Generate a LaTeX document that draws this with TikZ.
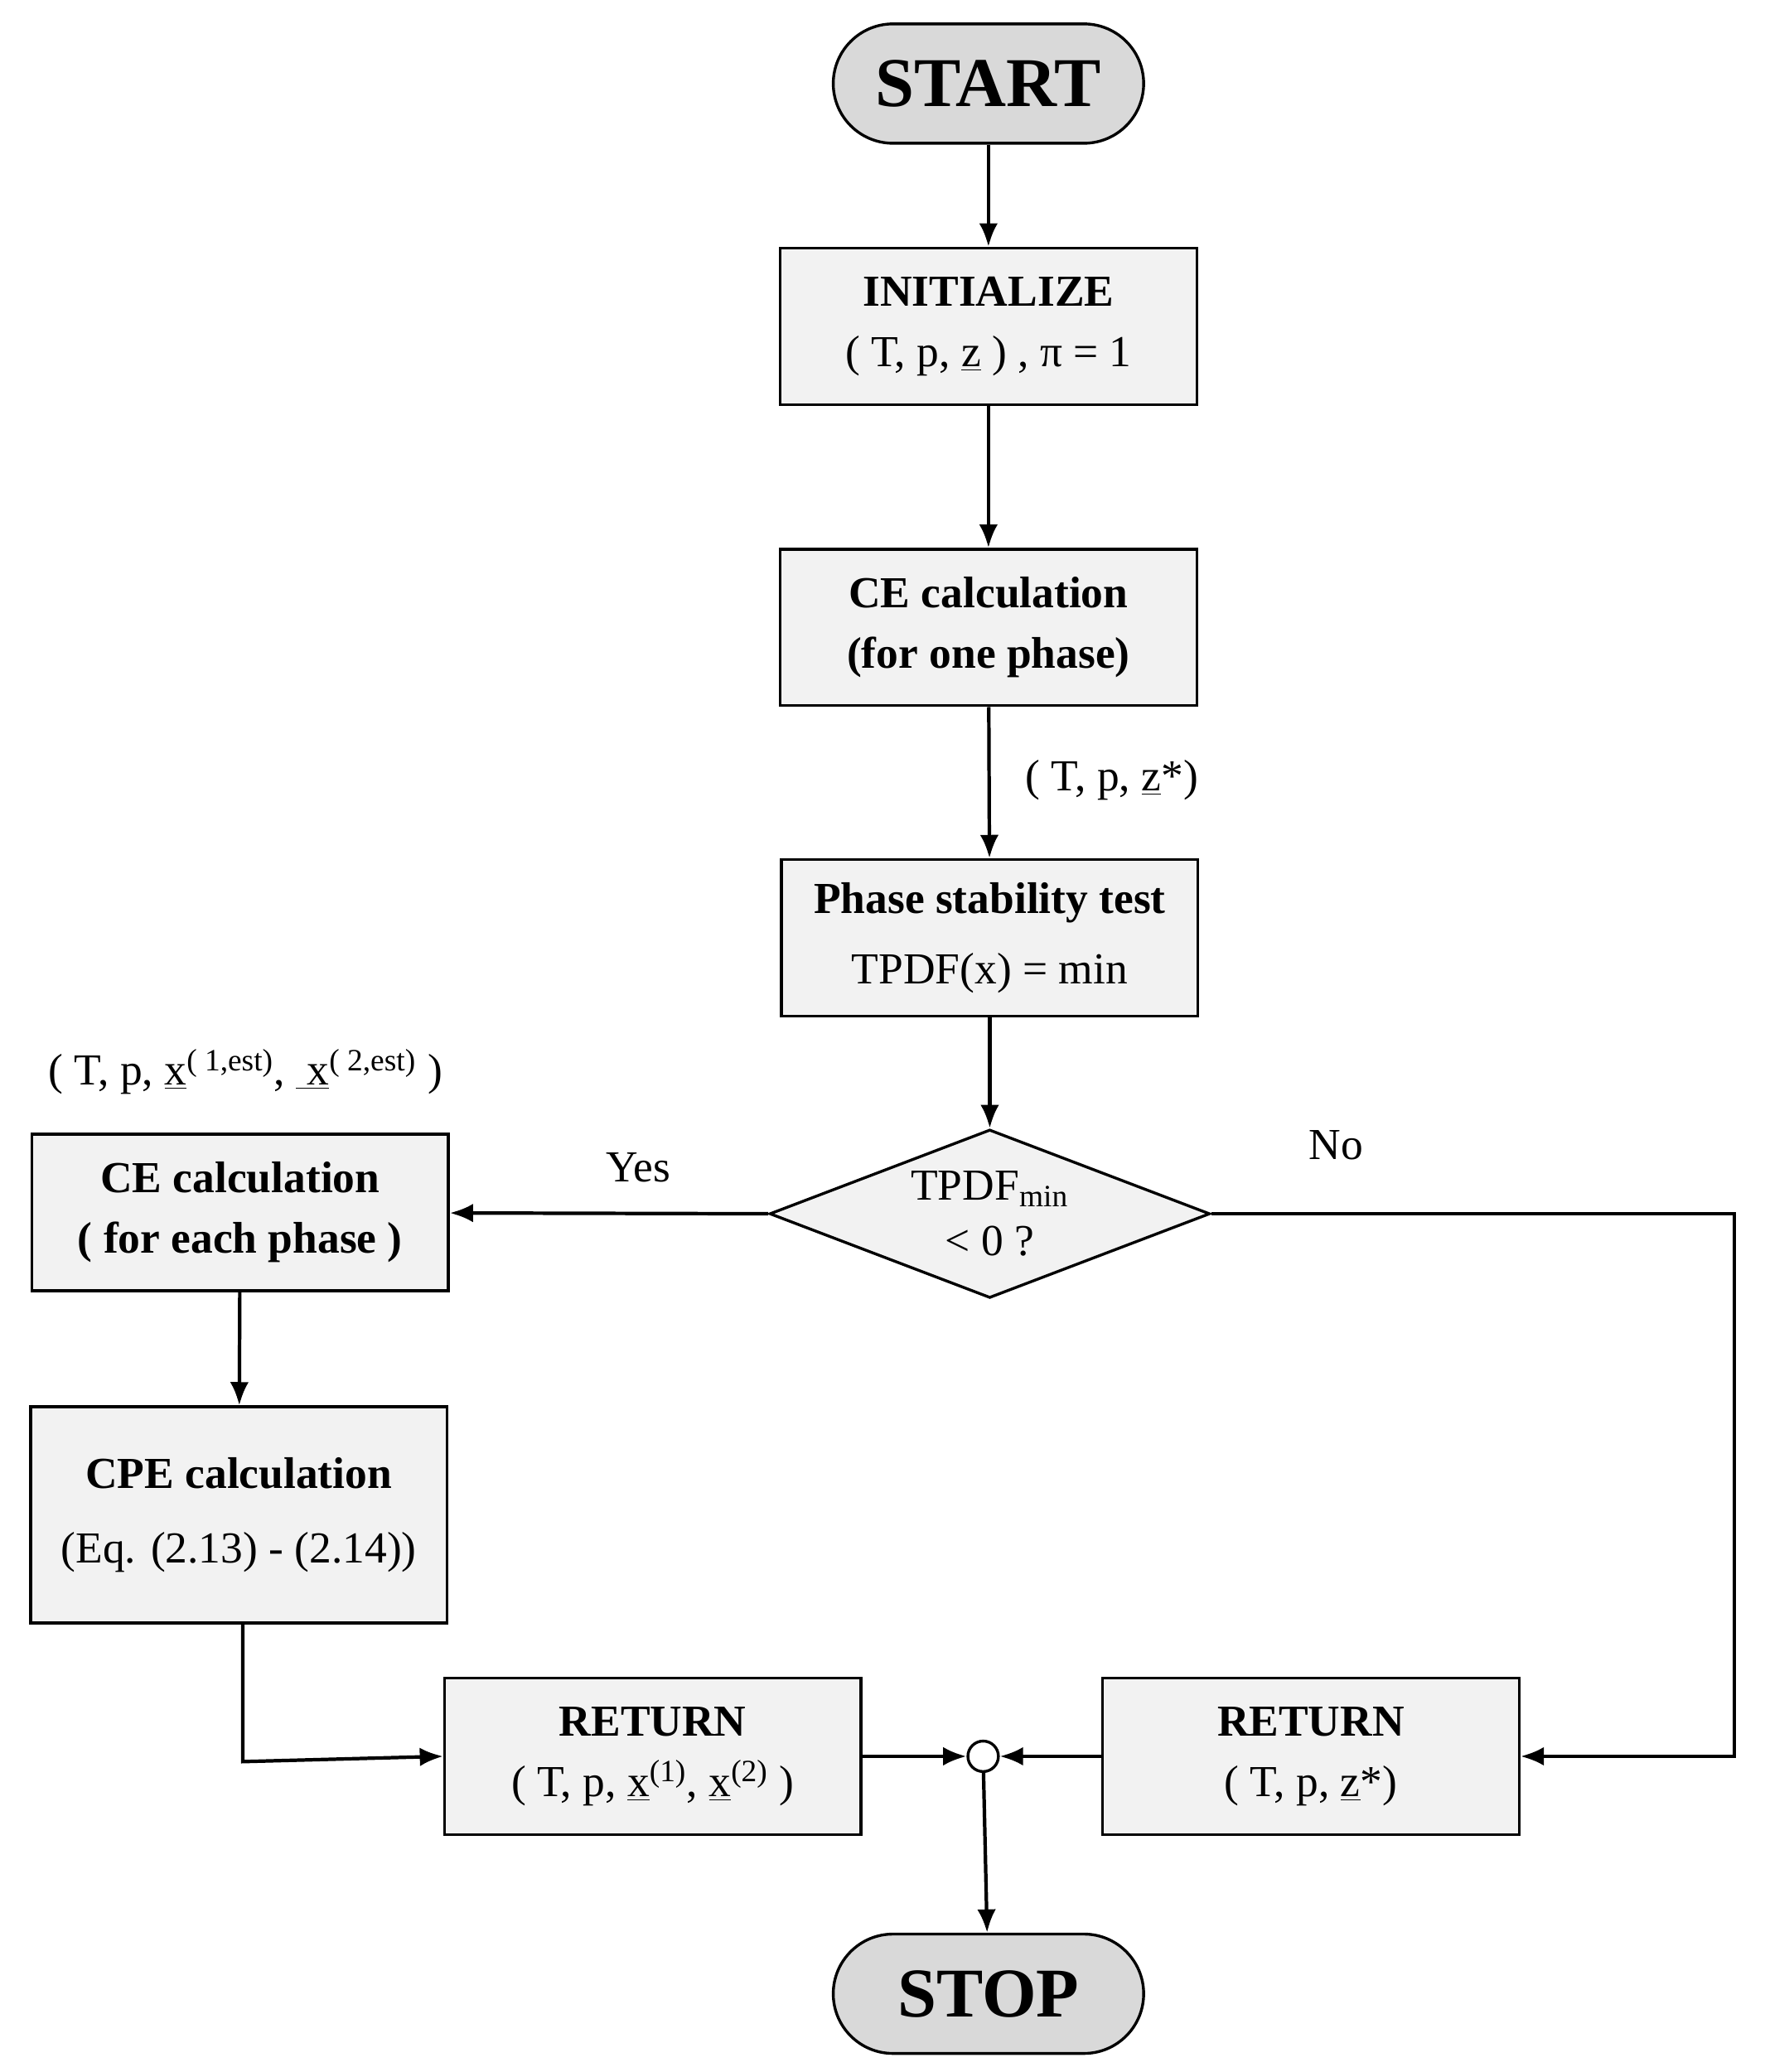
\documentclass[tikz,border=0pt]{standalone}
\usepackage{fontspec}
\setmainfont{Liberation Serif}
\usetikzlibrary{shapes.geometric,arrows.meta}
\begin{document}
\begin{tikzpicture}[x=0.02cm,y=-0.02cm,
  box/.style={draw,line width=1.2pt,fill=gray!10,minimum width=6.28cm,minimum height=2.36cm,align=center,font=\fontsize{19}{26}\selectfont},
  term/.style={draw,line width=1.2pt,fill=gray!30,rounded corners=0.9cm,minimum width=4.68cm,minimum height=1.8cm,font=\fontsize{30}{36}\selectfont\bfseries},
  lab/.style={font=\fontsize{19}{24}\selectfont},
  arr/.style={-{Latex[length=10pt,width=8pt]},line width=1.5pt}]
\useasboundingbox (0,0) rectangle (1330,1562);
\node[term] (start) at (745,63) {START};
\node[box] (init) at (745,246) {\textbf{INITIALIZE}\\( T, p, \underline{z} ) , π = 1};
\node[box] (ce) at (745,473) {\textbf{CE calculation}\\\textbf{(for one phase)}};
\node[lab] (l1) at (838,588) {( T, p, \underline{z}*)};
\node[box] (ps) at (746,707) {\textbf{Phase stability test}\\[4pt]TPDF(x) = min};
\node[diamond,draw,line width=1.2pt,fill=gray!10,minimum width=6.64cm,minimum height=2.54cm,inner sep=0pt,align=center,font=\fontsize{19}{24}\selectfont,aspect=2.6] (d) at (746,915) {TPDF\textsubscript{min}\\< 0 ?};
\node[lab] (yes) at (481,880) {Yes};
\node[lab] (no) at (1007,863) {No};
\node[box] (cee) at (181,914) {\textbf{CE calculation}\\\textbf{( for each phase )}};
\node[lab] (l2) at (185,808) {( T, p, \underline{x}\textsuperscript{( 1,est)}, \underline{ x}\textsuperscript{( 2,est)} )};
\node[box,minimum height=3.26cm] (cpe) at (180,1142) {\textbf{CPE calculation}\\[6pt](Eq. (2.13) - (2.14))};
\node[box] (r1) at (492,1324) {\textbf{RETURN}\\( T, p, \underline{x}\textsuperscript{(1)}, \underline{x}\textsuperscript{(2)} )};
\node[box] (r2) at (988,1324) {\textbf{RETURN}\\( T, p, \underline{z}*)};
\node[circle,draw,line width=1.2pt,fill=white,minimum size=0.46cm,inner sep=0pt] (c) at (741,1324) {};
\node[term] (stop) at (745,1503) {STOP};
\draw[arr] (start) -- (init);
\draw[arr] (init) -- (ce);
\draw[arr] (ce) -- (ps);
\draw[arr] (ps) -- (d);
\draw[arr] (d.west) -- (cee);
\coordinate (k1) at (1307,915);
\coordinate (k2) at (1307,1324);
\draw[arr] (d.east) -- (k1) -- (k2) -- (r2.east);
\draw[arr] (cee) -- (cpe);
\coordinate (k3) at (183,1328);
\draw[arr] (cpe.south -| k3) -- (k3) -- (r1.west);
\draw[arr] (r1) -- (c);
\draw[arr] (r2) -- (c);
\draw[arr] (c) -- (stop);
\end{tikzpicture}
\end{document}
